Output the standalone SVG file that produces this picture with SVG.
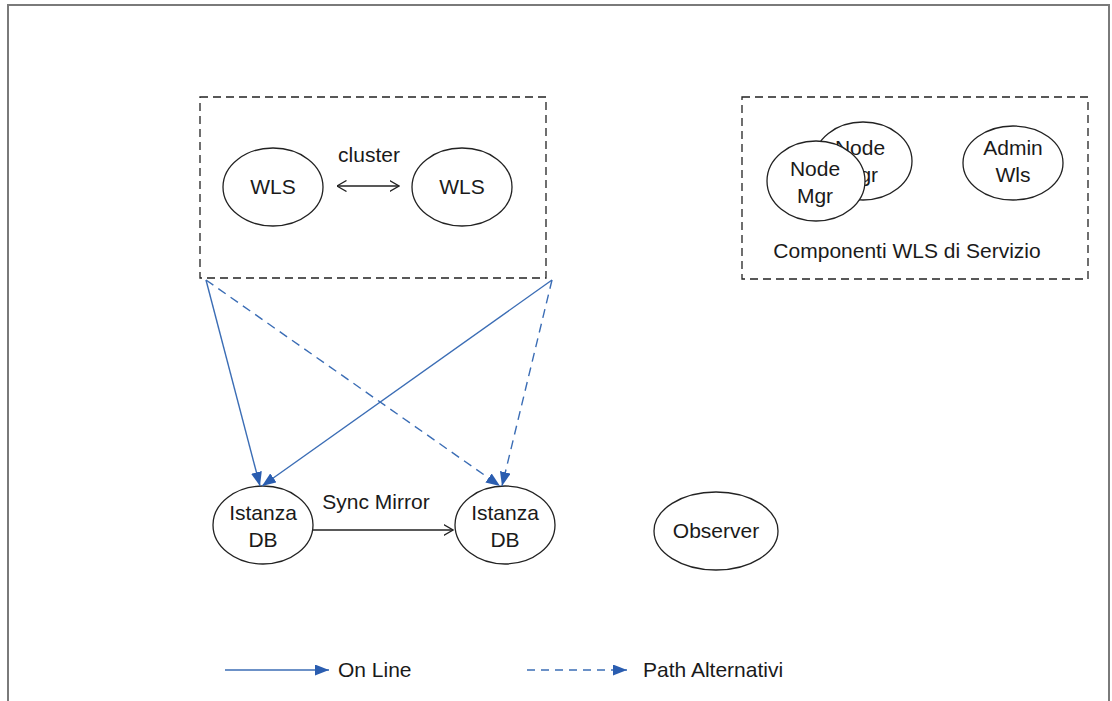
<svg xmlns="http://www.w3.org/2000/svg" width="1112" height="701" viewBox="0 0 1112 701">
<defs>
<style>
text{font-family:"Liberation Sans",Arial,sans-serif;font-size:21px;fill:#1a1a1a;text-anchor:middle}
.node{fill:#fff;stroke:#222;stroke-width:1.3}
.grp{fill:none;stroke:#222;stroke-width:1.3;stroke-dasharray:8,5}
.blue{fill:none;stroke:#3b6db5;stroke-width:1.4}
.dash{stroke-dasharray:9,6}
.blk{fill:none;stroke:#222;stroke-width:1.3}
</style>
<marker id="bh" viewBox="0 0 14 11" refX="14" refY="5.5" markerWidth="14" markerHeight="11" markerUnits="userSpaceOnUse" orient="auto">
<path d="M0,0 L14,5.5 L0,11 Z" fill="#2a5db0"/>
</marker>
<marker id="oh" viewBox="0 0 10 12" refX="9.5" refY="6" markerWidth="10" markerHeight="12" markerUnits="userSpaceOnUse" orient="auto-start-reverse">
<path d="M0,0.5 L9.5,6 L0,11.5" fill="none" stroke="#222" stroke-width="1.3"/>
</marker>
</defs>
<rect x="0" y="0" width="1112" height="701" fill="#fff"/>
<path d="M8,705 L8,5 L1109,5 L1109,705" fill="none" stroke="#7a7a7a" stroke-width="2"/>

<g id="cluster-group">
<rect class="grp" x="200" y="97" width="346" height="181"/>
<text x="369" y="162">cluster</text>
</g>
<g id="service-group">
<rect class="grp" x="742" y="97" width="346" height="182"/>
<text x="907" y="258">Componenti WLS di Servizio</text>
</g>

<g id="wls1"><ellipse class="node" cx="273" cy="187" rx="50" ry="39"/><text x="273" y="194">WLS</text></g>
<g id="wls2"><ellipse class="node" cx="462" cy="187" rx="50" ry="39"/><text x="462" y="194">WLS</text></g>
<g id="nodemgr2"><ellipse class="node" cx="863" cy="161" rx="49" ry="39"/><text x="860" y="155">Node</text><text x="860" y="182">Mgr</text></g>
<g id="nodemgr1"><ellipse class="node" cx="816" cy="181" rx="49" ry="40"/><text x="815" y="176">Node</text><text x="815" y="203">Mgr</text></g>
<g id="adminwls"><ellipse class="node" cx="1013" cy="163" rx="50" ry="37"/><text x="1013" y="155">Admin</text><text x="1013" y="182">Wls</text></g>
<g id="db1"><ellipse class="node" cx="263" cy="525" rx="50" ry="39"/><text x="263" y="520">Istanza</text><text x="263" y="547">DB</text></g>
<g id="db2"><ellipse class="node" cx="505" cy="525" rx="50" ry="39"/><text x="505" y="520">Istanza</text><text x="505" y="547">DB</text></g>
<g id="observer"><ellipse class="node" cx="716" cy="531" rx="62" ry="39"/><text x="716" y="538">Observer</text></g>

<g id="connectors">
<line class="blk" x1="337" y1="186" x2="399" y2="186" marker-start="url(#oh)" marker-end="url(#oh)"/>
<line class="blue" x1="206" y1="280" x2="260" y2="486" marker-end="url(#bh)"/>
<line class="blue" x1="552" y1="280" x2="262" y2="486" marker-end="url(#bh)"/>
<line class="blue dash" x1="206" y1="280" x2="500" y2="486" marker-end="url(#bh)"/>
<line class="blue dash" x1="552" y1="280" x2="502" y2="486" marker-end="url(#bh)"/>
<line class="blk" x1="313" y1="530" x2="453" y2="530" marker-end="url(#oh)"/>
<text x="376" y="509">Sync Mirror</text>
</g>

<g id="legend">
<line class="blue" x1="225" y1="670" x2="329" y2="670" marker-end="url(#bh)"/>
<text x="338" y="677" style="text-anchor:start">On Line</text>
<line class="blue" x1="527" y1="670" x2="627" y2="670" stroke-dasharray="8,6" marker-end="url(#bh)"/>
<text x="643" y="677" style="text-anchor:start">Path Alternativi</text>
</g>
</svg>
